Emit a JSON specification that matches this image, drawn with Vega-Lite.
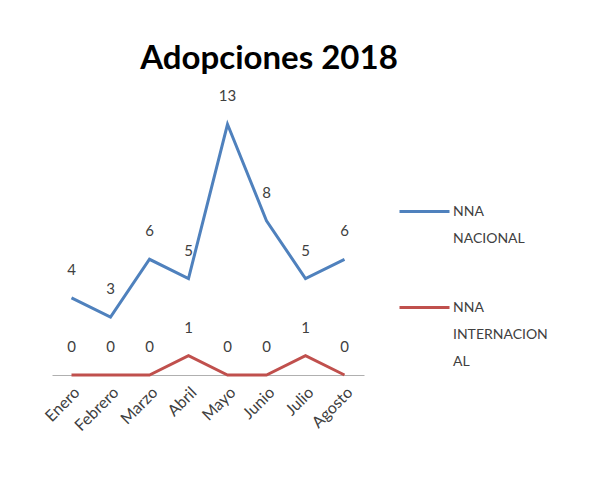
{
  "$schema": "https://vega.github.io/schema/vega-lite/v6.json",
  "width": 312,
  "height": 270,
  "autosize": "none",
  "padding": {"left": 52, "top": 105, "right": 234, "bottom": 113},
  "background": "white",
  "title": {
    "text": "Adopciones 2018",
    "font": "Lato",
    "fontSize": 33,
    "fontWeight": "bold",
    "color": "#000000",
    "anchor": "middle",
    "dx": 61,
    "offset": 13
  },
  "data": {
    "values": [
      {"mes": "Enero", "serie": "NNA NACIONAL", "valor": 4},
      {"mes": "Febrero", "serie": "NNA NACIONAL", "valor": 3},
      {"mes": "Marzo", "serie": "NNA NACIONAL", "valor": 6},
      {"mes": "Abril", "serie": "NNA NACIONAL", "valor": 5},
      {"mes": "Mayo", "serie": "NNA NACIONAL", "valor": 13},
      {"mes": "Junio", "serie": "NNA NACIONAL", "valor": 8},
      {"mes": "Julio", "serie": "NNA NACIONAL", "valor": 5},
      {"mes": "Agosto", "serie": "NNA NACIONAL", "valor": 6},
      {"mes": "Enero", "serie": "NNA INTERNACIONAL", "valor": 0},
      {"mes": "Febrero", "serie": "NNA INTERNACIONAL", "valor": 0},
      {"mes": "Marzo", "serie": "NNA INTERNACIONAL", "valor": 0},
      {"mes": "Abril", "serie": "NNA INTERNACIONAL", "valor": 1},
      {"mes": "Mayo", "serie": "NNA INTERNACIONAL", "valor": 0},
      {"mes": "Junio", "serie": "NNA INTERNACIONAL", "valor": 0},
      {"mes": "Julio", "serie": "NNA INTERNACIONAL", "valor": 1},
      {"mes": "Agosto", "serie": "NNA INTERNACIONAL", "valor": 0}
    ]
  },
  "encoding": {
    "x": {
      "field": "mes",
      "type": "nominal",
      "sort": null,
      "scale": {"type": "band", "paddingInner": 0, "paddingOuter": 0},
      "axis": {
        "title": null,
        "labelAngle": -45,
        "labelFont": "Lato",
        "labelFontSize": 16,
        "labelColor": "#404040",
        "ticks": false,
        "domainColor": "#b0b0b0",
        "domainWidth": 1,
        "labelPadding": 9,
        "grid": false
      }
    },
    "y": {
      "field": "valor",
      "type": "quantitative",
      "scale": {"domain": [0, 14]},
      "axis": null
    },
    "color": {
      "field": "serie",
      "type": "nominal",
      "sort": ["NNA NACIONAL", "NNA INTERNACIONAL"],
      "scale": {"domain": ["NNA NACIONAL", "NNA INTERNACIONAL"], "range": ["#4F81BD", "#C0504D"]},
      "legend": {
        "title": null,
        "orient": "none",
        "legendX": 346,
        "legendY": 80,
        "symbolType": "stroke",
        "symbolSize": 2500,
        "symbolStrokeWidth": 3,
        "labelFont": "Lato",
        "labelFontSize": 14,
        "labelColor": "#404040",
        "labelBaseline": "middle",
        "labelOffset": 2,
        "rowPadding": 35,
        "labelLimit": 200,
        "labelExpr": "datum.label == 'NNA NACIONAL' ? ['NNA', 'NACIONAL'] : ['NNA', 'INTERNACION', 'AL']"
      }
    }
  },
  "layer": [
    {"mark": {"type": "line", "strokeWidth": 3}},
    {
      "mark": {"type": "text", "dy": -28, "font": "Lato", "fontSize": 15, "color": "#404040"},
      "encoding": {"text": {"field": "valor", "type": "quantitative"}, "color": {"value": "#404040"}}
    }
  ],
  "config": {
    "view": {"stroke": null},
    "style": {"guide-label": {"lineHeight": 27}}
  }
}
